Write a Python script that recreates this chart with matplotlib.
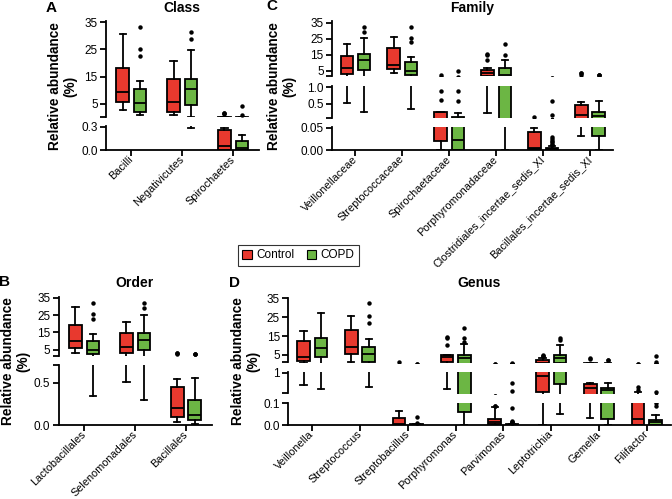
import matplotlib
matplotlib.use("Agg")
import matplotlib.pyplot as plt
from matplotlib.patches import Patch
import numpy as np

plt.rcParams["font.family"] = ["Liberation Sans", "DejaVu Sans"]

W, H = 672, 499
RED = "#E8392E"
GREEN = "#6CB644"
LW = 1.3

# box stats per category: (whislo, q1, median, q3, whishi), values in %
CLASS_NAMES = ["Bacilli", "Negativicutes", "Spirochaetes"]
CLASS_CONTROL = [(2.8, 5.8, 9.5, 18.3, 30.6), (1.0, 2.2, 5.8, 14.0, 20.8), (0.0, 0.0, 0.055, 0.257, 0.287)]
CLASS_CONTROL_OUT = [[], [], [1.7, 1.55, 1.45]]
CLASS_COPD = [(1.0, 2.2, 5.3, 10.4, 13.5), (0.29, 4.6, 10.4, 14.1, 24.8), (0.0, 0.0, 0.02, 0.12, 0.2)]
CLASS_COPD_OUT = [[33.3, 25.1, 22.6], [31.5, 28.7], [4.3, 1.0]]

ORDER_NAMES = ["Lactobacillales", "Selenomonadales", "Bacillales"]
ORDER_CONTROL = [(3.3, 5.8, 9.9, 19.2, 29.5), (0.51, 2.9, 6.4, 14.8, 21.2), (0.03, 0.1, 0.2, 0.45, 0.54)]
ORDER_CONTROL_OUT = [[], [], [3.3, 3.0, 2.6]]
ORDER_COPD = [(0.34, 2.5, 5.0, 10.2, 14.0), (0.29, 4.8, 10.6, 14.8, 25.0), (0.01, 0.06, 0.12, 0.3, 0.56)]
ORDER_COPD_OUT = [[32.1, 25.6, 22.7], [31.8, 29.2], [2.5, 2.4, 2.3]]

FAMILY_NAMES = ["Veillonellaceae", "Streptococcaceae", "Spirochaetaceae", "Porphyromonadaceae",
                "Clostridiales_incertae_sedis_XI", "Bacillales_incertae_sedis_XI"]
FAMILY_CONTROL = [(0.52, 2.75, 6.5, 14.4, 21.5), (3.4, 5.9, 8.6, 19.0, 26.3), (0.0, 0.02, 0.06, 0.25, 0.26),
                  (0.24, 2.0, 3.8, 5.4, 7.0), (0.0, 0.002, 0.005, 0.041, 0.049), (0.031, 0.06, 0.17, 0.47, 0.55)]
FAMILY_CONTROL_OUT = [[], [], [2.3, 0.89, 0.62], [15.4, 15.0, 11.8], [0.1], [3.8, 3.4, 2.6]]
FAMILY_COPD = [(0.27, 5.4, 11.7, 15.2, 25.3), (0.34, 2.2, 4.8, 10.3, 13.8), (0.0, 0.0, 0.022, 0.12, 0.22),
               (0.0, 0.06, 2.5, 6.5, 11.7), (0.0, 0.0, 0.002, 0.004, 0.008), (0.0, 0.031, 0.14, 0.27, 0.6)]
FAMILY_COPD_OUT = [[32.1, 29.4], [32.1, 25.6, 22.7], [4.8, 0.89, 0.59], [21.5, 14.8],
                   [0.6, 0.17, 0.03, 0.025, 0.02, 0.017, 0.014, 0.011], [2.4, 2.3, 2.2]]

GENUS_NAMES = ["Veillonella", "Streptococcus", "Streptobacillus", "Porphyromonas", "Parvimonas",
               "Leptotrichia", "Gemella", "Filifactor"]
GENUS_CONTROL = [(0.53, 2.0, 4.1, 12.4, 17.7), (1.3, 5.4, 9.4, 18.2, 25.6), (0.0, 0.0, 0.005, 0.031, 0.065),
                 (0.36, 1.05, 4.0, 5.0, 5.2), (0.0, 0.005, 0.015, 0.028, 0.085), (0.0, 0.27, 0.88, 2.2, 3.4),
                 (0.034, 0.15, 0.43, 0.55, 0.59), (0.0, 0.0, 0.03, 0.15, 0.27)]
GENUS_CONTROL_OUT = [[], [], [1.5], [14.4, 14.0, 10.3], [0.09, 0.088], [5.0, 4.6, 4.2], [3.3, 3.1], [0.46, 0.33]]
GENUS_COPD = [(0.36, 4.1, 8.9, 13.8, 27.4), (0.46, 1.2, 5.4, 9.4, 13.3), (0.0, 0.0, 0.001, 0.003, 0.005),
              (0.0, 0.058, 3.3, 5.0, 10.7), (0.0, 0.0, 0.002, 0.004, 0.006), (0.05, 0.55, 3.3, 5.0, 10.3),
              (0.0, 0.03, 0.33, 0.4, 0.59), (0.0, 0.0, 0.015, 0.023, 0.046)]
GENUS_COPD_OUT = [[], [32.4, 25.6, 22.1], [0.038, 0.01], [19.5, 14.2, 12.0],
                  [0.62, 0.3, 0.08, 0.02, 0.015, 0.012, 0.009], [13.8, 13.0], [2.4, 2.3], [4.5, 1.5, 0.27, 0.1, 0.09]]

BIG_TICKS = [5, 15, 25, 35]


def to_stats(boxes, outliers):
    return [dict(whislo=b[0], q1=b[1], med=b[2], q3=b[3], whishi=b[4], fliers=np.array(o))
            for b, o in zip(boxes, outliers)]


def px_text(fig, x, y, s, **kw):
    fig.text(x / W, 1 - y / H, s, ha="center", va="center", **kw)


def draw_panel(fig, names, control, control_out, copd, copd_out, x0, x1, segments):
    n = len(names)
    step = (x1 - x0) / n
    off = 8.7 / step
    width = 12.5 / step
    pos = np.arange(n)
    groups = [(to_stats(control, control_out), -off, RED), (to_stats(copd, copd_out), off, GREEN)]
    for i, (top, bot, lim, ticks, labels) in enumerate(segments):
        ax = fig.add_axes([x0 / W, 1 - bot / H, (x1 - x0) / W, (bot - top) / H])
        ax.patch.set_alpha(0)
        for stats, shift, color in groups:
            ax.bxp(stats, positions=pos + shift, widths=width, patch_artist=True, manage_ticks=False,
                   boxprops=dict(facecolor=color, edgecolor="black", linewidth=LW),
                   whiskerprops=dict(color="black", linewidth=LW),
                   capprops=dict(color="black", linewidth=LW),
                   medianprops=dict(color="black", linewidth=LW),
                   flierprops=dict(marker="o", markerfacecolor="black", markeredgewidth=0, markersize=3.2))
        ax.set_xlim(-0.5, n - 0.5)
        ax.set_ylim(*lim)
        ax.set_yticks(ticks)
        ax.set_yticklabels(labels)
        # little end marks where the axis is broken
        rng = lim[1] - lim[0]
        ends = []
        if i < len(segments) - 1:
            ends.append(lim[0])
        if i > 0 and min(abs(lim[1] - t) for t in ticks) > 0.06 * rng:
            ends.append(lim[1])
        ax.set_yticks(ends, minor=True)
        ax.tick_params(axis="y", which="both", direction="out", length=4, width=LW, labelsize=8.5, pad=2)
        for side in ("top", "right"):
            ax.spines[side].set_visible(False)
        ax.spines["left"].set_linewidth(LW)
        if i < len(segments) - 1:
            ax.spines["bottom"].set_visible(False)
            ax.set_xticks([])
        else:
            ax.spines["bottom"].set_linewidth(LW)
            ax.set_xticks(pos)
            ax.set_xticklabels(names, rotation=45, ha="right", va="center", rotation_mode="anchor")
            ax.tick_params(axis="x", direction="out", length=4, width=LW, labelsize=7.8, pad=1.5)


fig = plt.figure(figsize=(W / 100, H / 100), dpi=100)

draw_panel(fig, CLASS_NAMES, CLASS_CONTROL, CLASS_CONTROL_OUT, CLASS_COPD, CLASS_COPD_OUT, 106, 258.5, [
    (21.5, 116.7, (0.35, 35.2), BIG_TICKS, ["5", "15", "25", "35"]),
    (126.0, 150.0, (0, 0.31), [0, 0.3], ["0.0", "0.3"]),
])
draw_panel(fig, FAMILY_NAMES, FAMILY_CONTROL, FAMILY_CONTROL_OUT, FAMILY_COPD, FAMILY_COPD_OUT, 332, 613.4, [
    (21.0, 76.0, (1.7, 36.0), BIG_TICKS, ["5", "15", "25", "35"]),
    (86.0, 118.3, (0.07, 1.04), [0.5, 1.0], ["0.5", "1.0"]),
    (126.7, 150.0, (0, 0.0522), [0, 0.05], ["0.00", "0.05"]),
])
draw_panel(fig, ORDER_NAMES, ORDER_CONTROL, ORDER_CONTROL_OUT, ORDER_COPD, ORDER_COPD_OUT, 58.7, 211.5, [
    (297.2, 356.0, (1.4, 35.3), BIG_TICKS, ["5", "15", "25", "35"]),
    (365.0, 425.0, (0, 0.71), [0, 0.5], ["0.0", "0.5"]),
])
draw_panel(fig, GENUS_NAMES, GENUS_CONTROL, GENUS_CONTROL_OUT, GENUS_COPD, GENUS_COPD_OUT, 288.3, 670.7, [
    (297.5, 362.5, (1.0, 35.4), BIG_TICKS, ["5", "15", "25", "35"]),
    (371.7, 393.5, (0.2, 1.04), [1], ["1"]),
    (402.7, 425.0, (0, 0.103), [0, 0.1], ["0.0", "0.1"]),
])

ylab = "Relative abundance\n(%)"
for x, y in [(63, 86), (282, 86), (16, 361), (246, 361)]:
    px_text(fig, x, y, ylab, rotation=90, fontsize=9.8, fontweight="bold", linespacing=1.1)

for x, y, s in [(51, 8, "A"), (272, 6, "C"), (5, 282, "B"), (235, 283, "D")]:
    px_text(fig, x, y, s, fontsize=11, fontweight="bold")
for x, y, s in [(182, 8, "Class"), (472.5, 8, "Family"), (135, 283, "Order"), (479, 283, "Genus")]:
    px_text(fig, x, y, s, fontsize=10, fontweight="bold")

handles = [Patch(facecolor=RED, edgecolor="black", linewidth=0.8, label="Control"),
           Patch(facecolor=GREEN, edgecolor="black", linewidth=0.8, label="COPD")]
leg = fig.legend(handles=handles, loc="center", bbox_to_anchor=(298.5 / W, 1 - 255.5 / H), ncol=2,
                 fontsize=8.5, frameon=True, fancybox=False, handlelength=0.8, handleheight=0.8,
                 handletextpad=0.4, columnspacing=1.0, borderpad=0.35, borderaxespad=0)
leg.get_frame().set_edgecolor("black")
leg.get_frame().set_linewidth(0.8)

fig.savefig("out.png", dpi=100)
